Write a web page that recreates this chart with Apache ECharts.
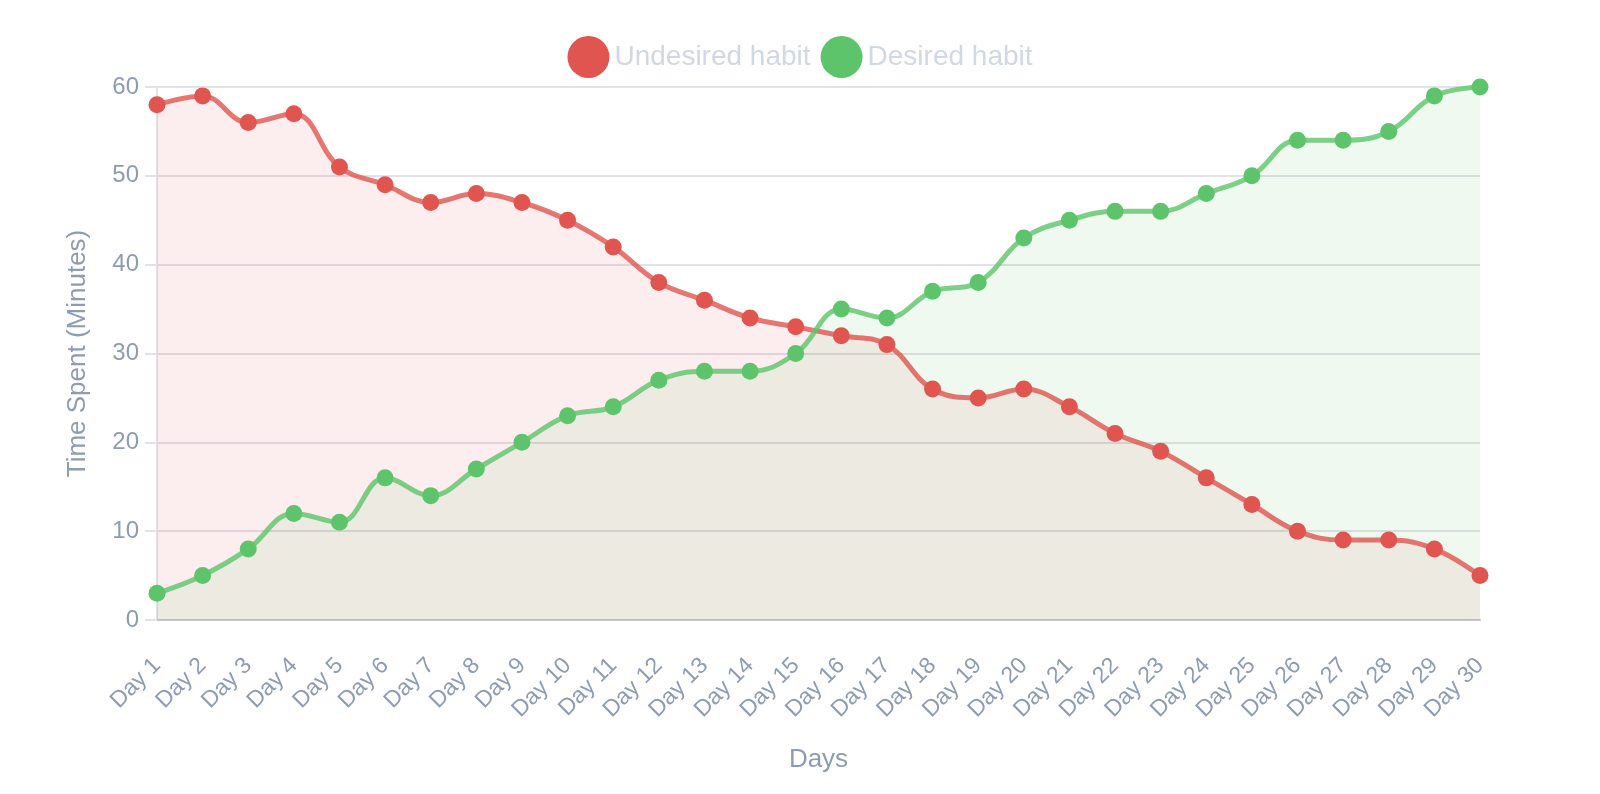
<meta charset="UTF-8"/>
<style type="text/css">
	html, body { margin:0; padding:0; background:#fff; }
	#chart { width:1600px; height:794px; }
</style>
<div id="chart"></div>
<script src="https://cdn.jsdelivr.net/npm/echarts@6/dist/echarts.min.js"></script>
<script type="text/javascript">
var days = [];
for (var d = 1; d <= 30; d++) { days.push('Day ' + d); }

var undesired = [58, 59, 56, 57, 51, 49, 47, 48, 47, 45, 42, 38, 36, 34, 33, 32, 31, 26, 25, 26, 24, 21, 19, 16, 13, 10, 9, 9, 8, 5];
var desired = [3, 5, 8, 12, 11, 16, 14, 17, 20, 23, 24, 27, 28, 28, 30, 35, 34, 37, 38, 43, 45, 46, 46, 48, 50, 54, 54, 55, 59, 60];

var yTicks = { min: 0, max: 60, interval: 10 };

var RED = '#e0554f';
var GREEN = '#5ec46b';
var TXT = '#8e9bb4';
var FONT = '"Liberation Sans", Helvetica, Arial, sans-serif';

function makeSeries(name, data, color, fill) {
	return {
		name: name,
		type: 'line',
		data: data,
		smooth: 0.4,
		symbol: 'circle',
		symbolSize: 17,
		itemStyle: { color: color },
		lineStyle: { color: color, width: 5, opacity: 0.8 },
		areaStyle: { color: fill },
		emphasis: { disabled: true }
	};
}

var myChart = echarts.init(document.getElementById('chart'));
var option = {
	animation: false,
	textStyle: { fontFamily: FONT },
	legend: {
		top: 31,
		left: 'center',
		icon: 'circle',
		itemWidth: 42,
		itemHeight: 42,
		itemGap: 10,
		textStyle: { color: '#d0d8e4', fontSize: 28, fontFamily: FONT },
		data: ['Undesired habit', 'Desired habit']
	},
	grid: { left: 157, right: 120, top: 87, bottom: 174 },
	xAxis: {
		type: 'category',
		data: days,
		boundaryGap: false,
		name: 'Days',
		nameLocation: 'middle',
		nameGap: 127,
		nameTextStyle: { color: TXT, fontSize: 26, fontFamily: FONT },
		axisLine: { lineStyle: { color: '#c8c8c8', width: 2 } },
		axisTick: { show: false },
		axisLabel: { color: TXT, fontSize: 23, rotate: 45, margin: 42, interval: 0 },
		splitLine: { show: false }
	},
	yAxis: {
		type: 'value',
		min: yTicks.min,
		max: yTicks.max,
		interval: yTicks.interval,
		name: 'Time Spent (Minutes)',
		nameLocation: 'middle',
		nameGap: 66,
		nameTextStyle: { color: TXT, fontSize: 26, fontFamily: FONT },
		axisLine: { show: true, lineStyle: { color: '#e2e2e8', width: 2 } },
		axisTick: { show: true, length: 12, lineStyle: { color: '#e2e2e8', width: 2 } },
		axisLabel: { color: TXT, fontSize: 24, margin: 18 },
		splitLine: { lineStyle: { color: '#e2e2e8', width: 2 } }
	},
	series: [
		makeSeries('Undesired habit', undesired, RED, 'rgba(224,85,79,0.14)'),
		makeSeries('Desired habit', desired, GREEN, 'rgba(94,196,107,0.14)')
	]
};
myChart.setOption(option);
</script>
